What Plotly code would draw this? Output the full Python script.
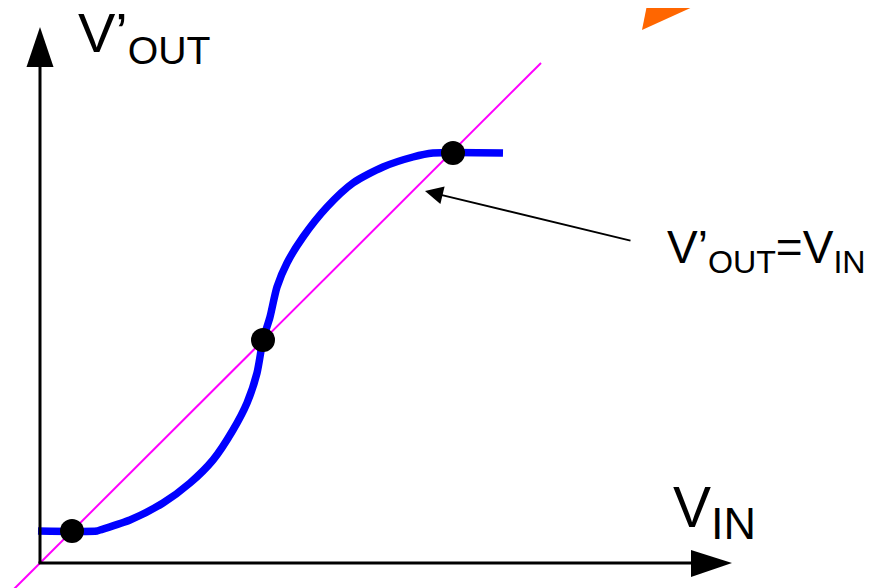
import plotly.graph_objects as go

# Coordinates: x measured from the vertical axis, y measured up from the horizontal axis
curve_x = [-2, 57, 60, 90, 123, 150, 173, 193, 207, 217, 223, 230, 237, 247, 263, 287, 313, 343, 373, 393, 463]
curve_y = [32, 32, 33, 43, 60, 80, 103, 133, 160, 190, 223, 246, 276, 300, 326, 356, 380, 396, 406, 410, 410]

diag_x = [-30, 501]
diag_y = [-30, 500]

point_x = [32, 223, 413]
point_y = [32, 223, 410]

fig = go.Figure()

fig.add_trace(go.Scatter(x=diag_x, y=diag_y, mode="lines",
                         line=dict(color="#FF00FF", width=2), hoverinfo="skip"))
fig.add_trace(go.Scatter(x=curve_x, y=curve_y, mode="lines",
                         line=dict(color="#0000FF", width=7.5, shape="spline", smoothing=0.7),
                         hoverinfo="skip"))
fig.add_trace(go.Scatter(x=point_x, y=point_y, mode="markers",
                         marker=dict(color="black", size=24), hoverinfo="skip"))

shapes = [
    # axes
    dict(type="line", x0=0, y0=0, x1=0, y1=497, line=dict(color="black", width=3)),
    dict(type="line", x0=-1.5, y0=0, x1=652, y1=0, line=dict(color="black", width=3)),
    dict(type="path", path="M -13.5 496 L 13.5 496 L 0 536 Z", fillcolor="black", line=dict(width=0)),
    dict(type="path", path="M 651 13 L 651 -14 L 692 0 Z", fillcolor="black", line=dict(width=0)),
    # orange triangle (clipped at top)
    dict(type="path", path="M 602 533 L 614 593 L 734 593 Z", fillcolor="#FF6600", line=dict(width=0)),
]

FONT = "Liberation Sans, Arial"
annotations = [
    dict(x=385, y=372, ax=592, ay=322, xref="x", yref="y", axref="x", ayref="y",
         text="", showarrow=True, arrowhead=2, arrowsize=1.8, arrowwidth=2, arrowcolor="black"),
    dict(x=36, y=527, xref="x", yref="y", xanchor="left", yanchor="middle",
         text="V’<sub>OUT</sub>", showarrow=False,
         font=dict(family=FONT, size=56, color="black")),
    dict(x=625, y=313, xref="x", yref="y", xanchor="left", yanchor="middle",
         text="V’<sub>OUT</sub>=V<sub>IN</sub>", showarrow=False,
         font=dict(family=FONT, size=46, color="black")),
    dict(x=631, y=51, xref="x", yref="y", xanchor="left", yanchor="middle",
         text="V<sub><span style='font-size:45px'>IN</span></sub>", showarrow=False,
         font=dict(family=FONT, size=57, color="black")),
]

fig.update_layout(
    width=872, height=588,
    margin=dict(l=0, r=0, t=0, b=0),
    paper_bgcolor="white", plot_bgcolor="white",
    showlegend=False,
    xaxis=dict(range=[-32, 840], visible=False, fixedrange=True),
    yaxis=dict(range=[-33, 555], visible=False, fixedrange=True),
    shapes=shapes,
    annotations=annotations,
)

fig.write_html("out.html")
